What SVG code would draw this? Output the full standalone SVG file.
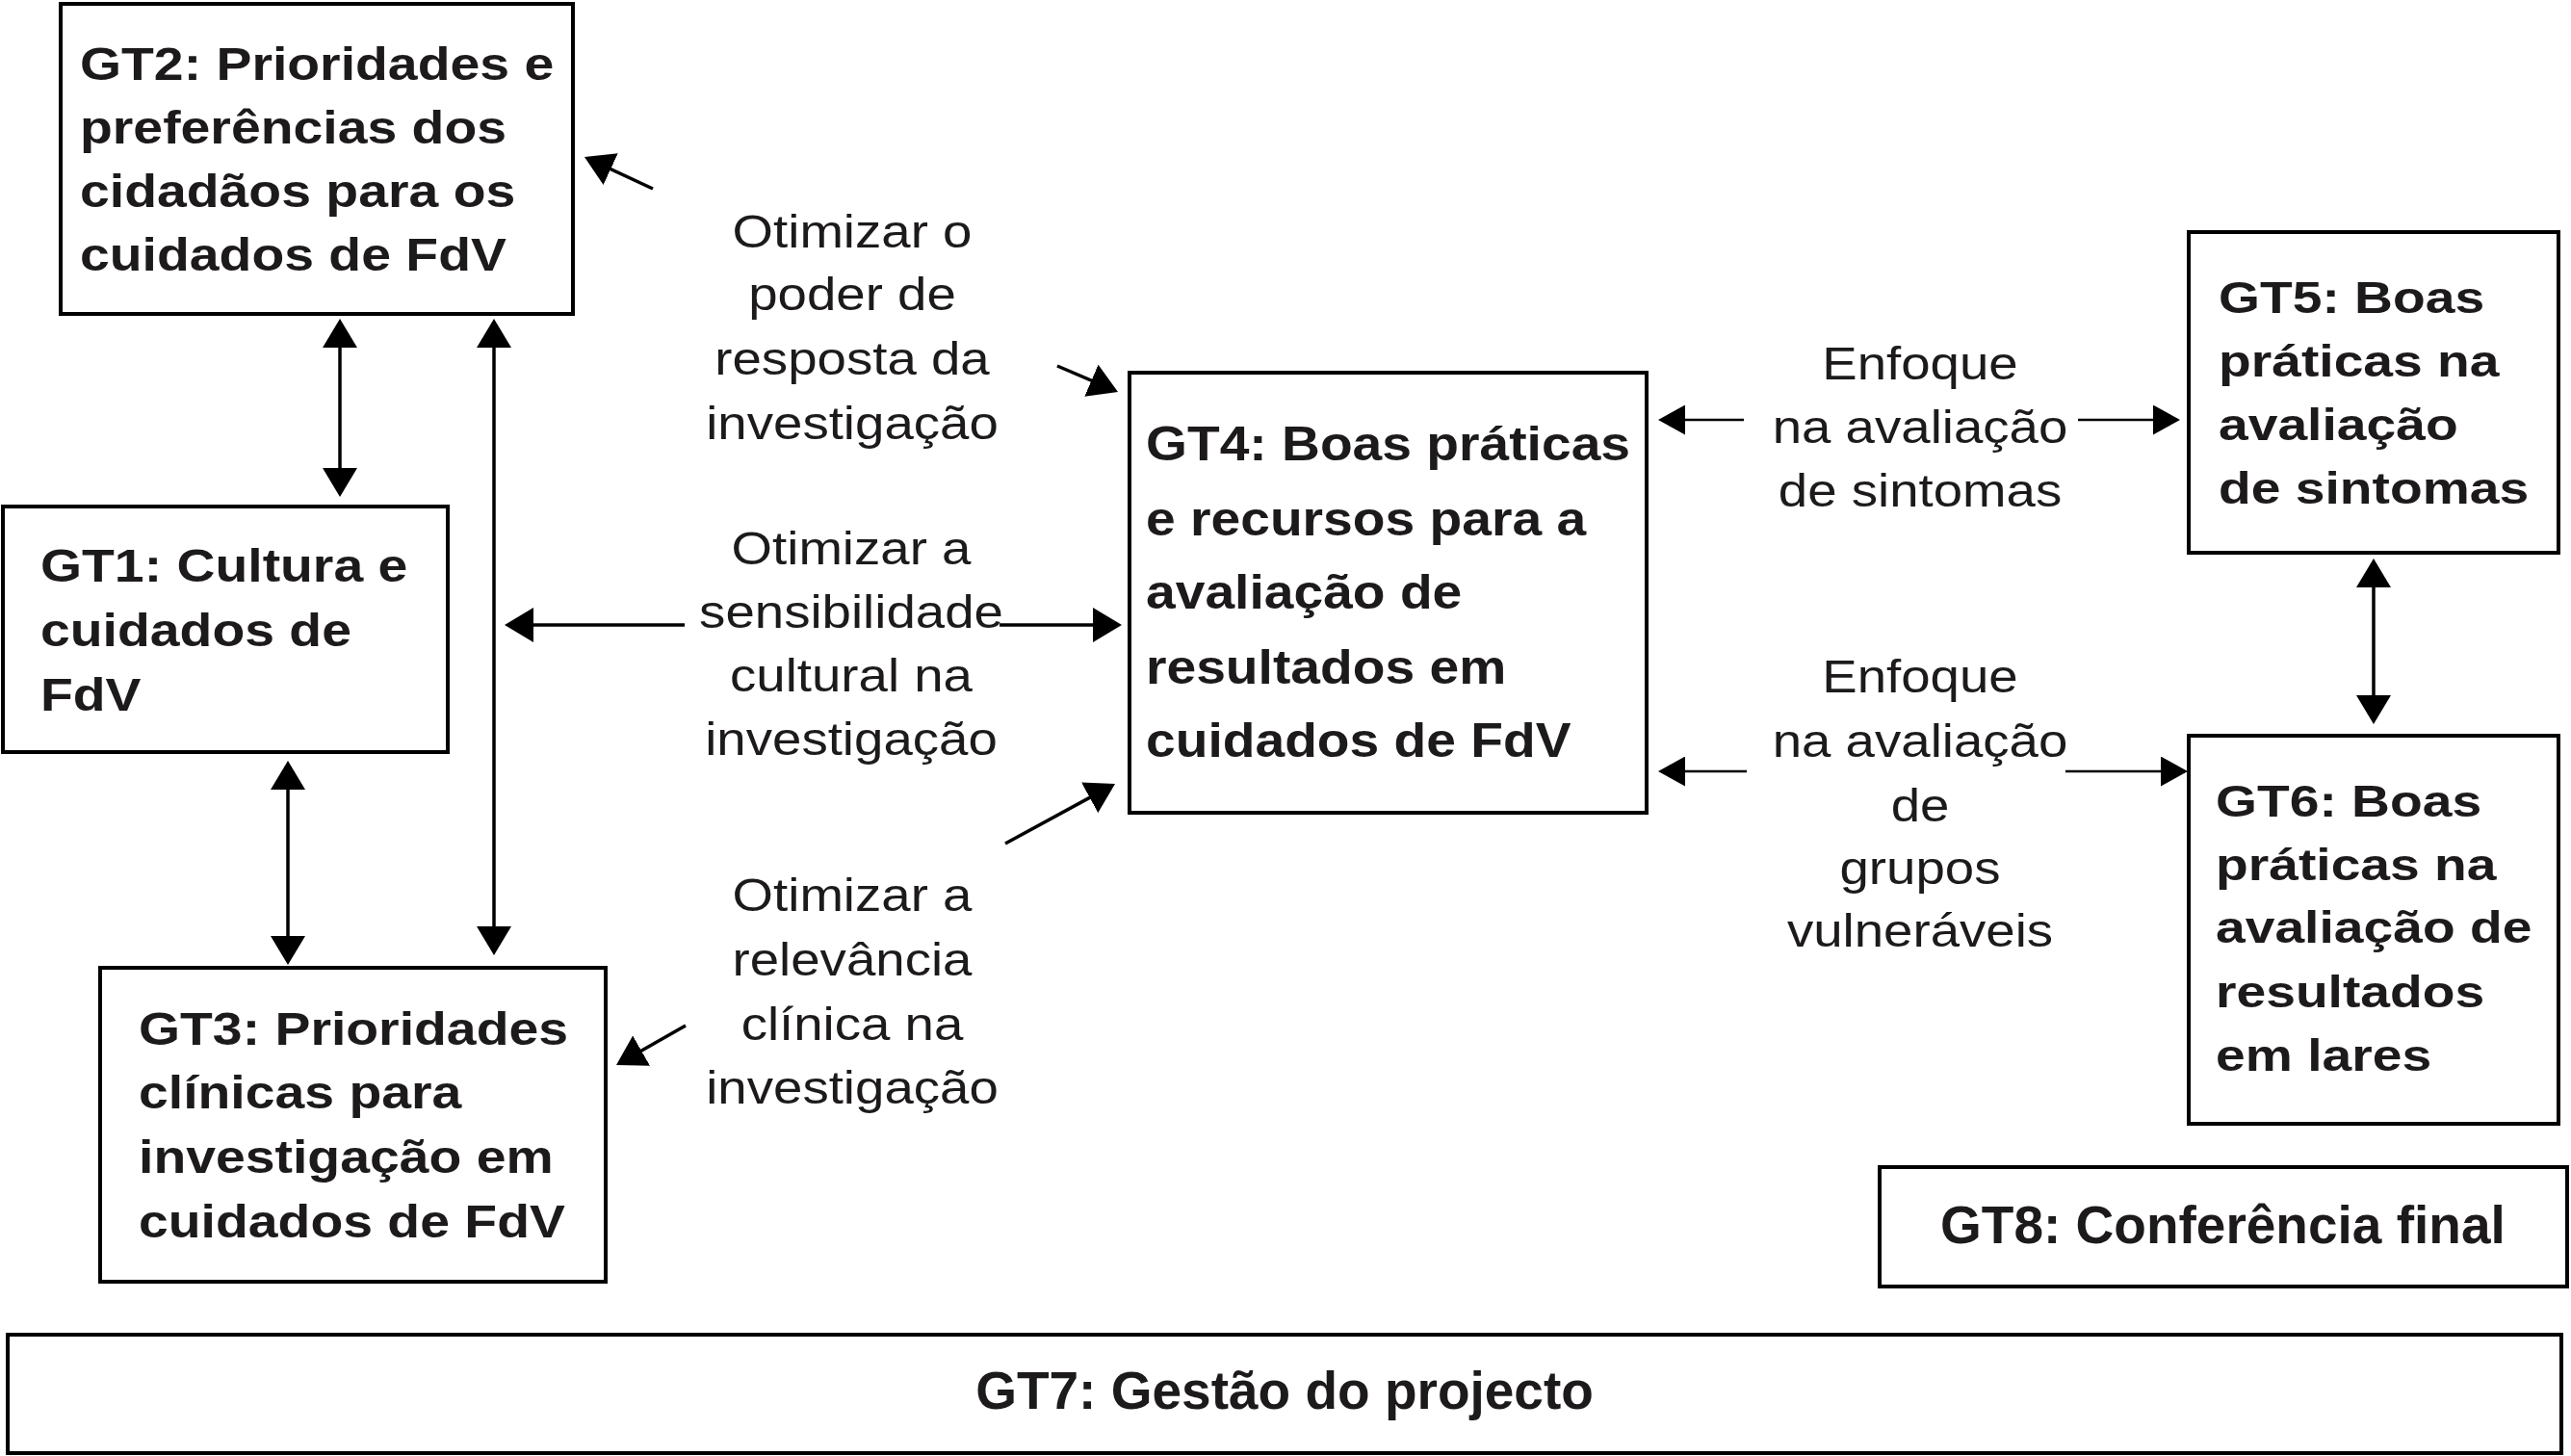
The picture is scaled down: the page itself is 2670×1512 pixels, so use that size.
<svg xmlns="http://www.w3.org/2000/svg" width="2670" height="1512" viewBox="0 0 2670 1512">
<style>
.box{fill:#fff;stroke:#000;stroke-width:4}
.bt{font-family:"Liberation Sans",Arial,sans-serif;font-weight:bold;fill:#1d1a1b}
.lt{font-family:"Liberation Sans",Arial,sans-serif;font-weight:normal;fill:#1d1a1b;text-anchor:middle}
.ln{stroke:#000;stroke-width:3.5;fill:none}
.ln2{stroke:#000;stroke-width:2.5;fill:none}
</style>
<defs>
<marker id="ah" markerUnits="userSpaceOnUse" markerWidth="30" markerHeight="36" refX="26" refY="18" orient="auto-start-reverse"><path d="M0,0 L30,18 L0,36 z" fill="#000"/></marker>
<marker id="ah2" markerUnits="userSpaceOnUse" markerWidth="28" markerHeight="31" refX="25" refY="15.5" orient="auto-start-reverse"><path d="M0,0 L28,15.5 L0,31 z" fill="#000"/></marker>
</defs>
<rect width="2670" height="1512" fill="#fff"/>

<g id="GT2">
<rect class="box" x="63" y="4" width="532" height="322"/>
<g class="bt" font-size="49" transform="translate(83,0) scale(1.13,1)">
<text x="0" y="83">GT2: Prioridades e</text>
<text x="0" y="149">preferências dos</text>
<text x="0" y="215">cidadãos para os</text>
<text x="0" y="281">cuidados de FdV</text>
</g>
</g>

<g id="GT1">
<rect class="box" x="3" y="526" width="462" height="255"/>
<g class="bt" font-size="49" transform="translate(42,0) scale(1.13,1)">
<text x="0" y="604">GT1: Cultura e</text>
<text x="0" y="671">cuidados de</text>
<text x="0" y="738">FdV</text>
</g>
</g>

<g id="GT3">
<rect class="box" x="104" y="1005" width="525" height="326"/>
<g class="bt" font-size="49" transform="translate(144,0) scale(1.13,1)">
<text x="0" y="1085">GT3: Prioridades</text>
<text x="0" y="1151">clínicas para</text>
<text x="0" y="1218">investigação em</text>
<text x="0" y="1285">cuidados de FdV</text>
</g>
</g>

<g id="GT4">
<rect class="box" x="1173" y="387" width="537" height="457"/>
<g class="bt" font-size="50" transform="translate(1190,0) scale(1.104,1)">
<text x="0" y="478">GT4: Boas práticas</text>
<text x="0" y="556">e recursos para a</text>
<text x="0" y="632">avaliação de</text>
<text x="0" y="710">resultados em</text>
<text x="0" y="786">cuidados de FdV</text>
</g>
</g>

<g id="GT5">
<rect class="box" x="2273" y="241" width="384" height="333"/>
<g class="bt" font-size="47" transform="translate(2304,0) scale(1.175,1)">
<text x="0" y="325">GT5: Boas</text>
<text x="0" y="391">práticas na</text>
<text x="0" y="457">avaliação</text>
<text x="0" y="523">de sintomas</text>
</g>
</g>

<g id="GT6">
<rect class="box" x="2273" y="764" width="384" height="403"/>
<g class="bt" font-size="47" transform="translate(2301,0) scale(1.175,1)">
<text x="0" y="848">GT6: Boas</text>
<text x="0" y="914">práticas na</text>
<text x="0" y="979">avaliação de</text>
<text x="0" y="1046">resultados</text>
<text x="0" y="1112">em lares</text>
</g>
</g>

<g id="GT8">
<rect class="box" x="1952" y="1212" width="714" height="124"/>
<text class="bt" font-size="55" x="2015" y="1291">GT8: Conferência final</text>
</g>

<g id="GT7">
<rect class="box" x="8" y="1386" width="2652" height="123"/>
<text class="bt" font-size="55" x="1334" y="1463" text-anchor="middle">GT7: Gestão do projecto</text>
</g>

<g id="labels">
<g class="lt" font-size="49" transform="translate(885,0) scale(1.115,1)">
<text x="0" y="257">Otimizar o</text>
<text x="0" y="322">poder de</text>
<text x="0" y="389">resposta da</text>
<text x="0" y="456">investigação</text>
</g>
<g class="lt" font-size="49" transform="translate(884,0) scale(1.115,1)">
<text x="0" y="586">Otimizar a</text>
<text x="0" y="652">sensibilidade</text>
<text x="0" y="718">cultural na</text>
<text x="0" y="784">investigação</text>
</g>
<g class="lt" font-size="49" transform="translate(885,0) scale(1.115,1)">
<text x="0" y="946">Otimizar a</text>
<text x="0" y="1013">relevância</text>
<text x="0" y="1080">clínica na</text>
<text x="0" y="1146">investigação</text>
</g>
<g class="lt" font-size="49" transform="translate(1994,0) scale(1.115,1)">
<text x="0" y="394">Enfoque</text>
<text x="0" y="460">na avaliação</text>
<text x="0" y="526">de sintomas</text>
</g>
<g class="lt" font-size="49" transform="translate(1994,0) scale(1.115,1)">
<text x="0" y="719">Enfoque</text>
<text x="0" y="786">na avaliação</text>
<text x="0" y="853">de</text>
<text x="0" y="918">grupos</text>
<text x="0" y="983">vulneráveis</text>
</g>
</g>

<g id="connectors">
<line class="ln" x1="353" y1="335" x2="353" y2="512" marker-start="url(#ah)" marker-end="url(#ah)"/>
<line class="ln" x1="513" y1="335" x2="513" y2="988" marker-start="url(#ah)" marker-end="url(#ah)"/>
<line class="ln" x1="299" y1="794" x2="299" y2="998" marker-start="url(#ah)" marker-end="url(#ah)"/>
<line class="ln" x1="711" y1="649" x2="528" y2="649" marker-end="url(#ah)"/>
<line class="ln" x1="1038" y1="649" x2="1161" y2="649" marker-end="url(#ah)"/>
<line class="ln" x1="678" y1="196" x2="610.6" y2="164.7" marker-end="url(#ah)"/>
<line class="ln" x1="1098" y1="380" x2="1157.3" y2="405.4" marker-end="url(#ah)"/>
<line class="ln" x1="1044" y1="876" x2="1154.5" y2="815.9" marker-end="url(#ah)"/>
<line class="ln" x1="712" y1="1065" x2="643.5" y2="1104" marker-end="url(#ah)"/>
<line class="ln2" x1="1811" y1="436" x2="1725" y2="436" marker-end="url(#ah2)"/>
<line class="ln2" x1="2158" y1="436" x2="2261" y2="436" marker-end="url(#ah2)"/>
<line class="ln2" x1="1814" y1="801" x2="1725" y2="801" marker-end="url(#ah2)"/>
<line class="ln2" x1="2145" y1="801" x2="2269" y2="801" marker-end="url(#ah2)"/>
<line class="ln" x1="2465" y1="584" x2="2465" y2="748" marker-start="url(#ah)" marker-end="url(#ah)"/>
</g>
</svg>
